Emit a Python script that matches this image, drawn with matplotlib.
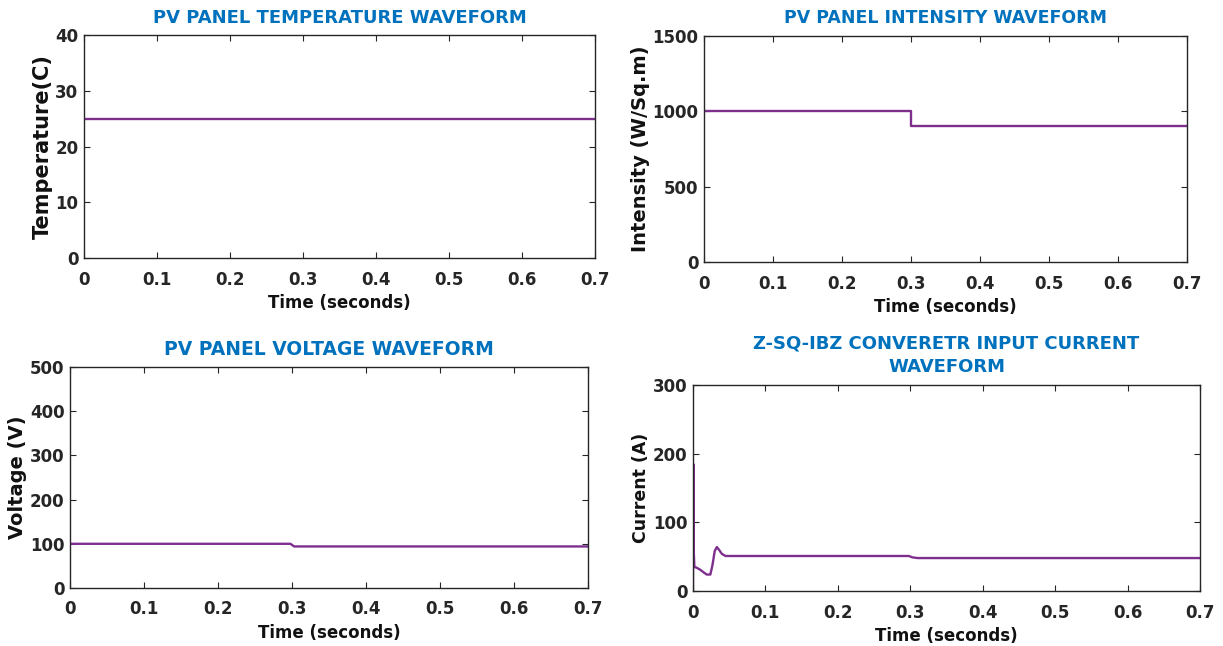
import numpy as np
import matplotlib.pyplot as plt

t_temp = [0, 0.7]
temp = [25, 25]

t_irr = [0, 0.3, 0.3, 0.7]
irr = [1000, 1000, 900, 900]

t_volt = [0, 0.298, 0.303, 0.7]
volt = [100, 100, 94, 94]

t_cur = [0, 0.0005, 0.001, 0.002, 0.005, 0.01, 0.015, 0.019, 0.024,
         0.027, 0.03, 0.033, 0.036, 0.04, 0.045, 0.05, 0.298, 0.303, 0.31, 0.7]
cur = [0, 185, 60, 35, 34, 31, 27, 24, 24,
       38, 58, 64, 60, 54, 51, 51, 51, 49, 48, 48]

line_c = '#7E2F8E'
title_c = '#0072BD'
ax_c = '#262626'

plt.rcParams['font.family'] = 'DejaVu Sans'
plt.rcParams['font.weight'] = 'bold'

fig = plt.figure(figsize=(12.23, 6.46), dpi=100)

def setup(ax, title, ylabel, ylim, yticks, tsize, ysize):
    ax.set_xlim(0, 0.7)
    ax.set_ylim(*ylim)
    ax.set_xticks(np.arange(0, 0.71, 0.1))
    ax.set_xticklabels(['0', '0.1', '0.2', '0.3', '0.4', '0.5', '0.6', '0.7'])
    ax.set_yticks(yticks)
    ax.tick_params(direction='in', top=True, right=True, colors=ax_c,
                   labelsize=12, length=4, pad=4)
    ax.tick_params(axis='x', pad=9)
    for lab in ax.get_xticklabels() + ax.get_yticklabels():
        lab.set_fontweight('bold')
    for s in ax.spines.values():
        s.set_color(ax_c)
        s.set_linewidth(1.0)
    ax.set_title(title, color=title_c, fontsize=tsize, fontweight='bold',
                 pad=9, linespacing=1.4)
    ax.set_xlabel('Time (seconds)', fontsize=12, fontweight='bold', color='#111111',
                  labelpad=4)
    ax.set_ylabel(ylabel, fontsize=ysize, fontweight='bold', color='#111111',
                  labelpad=2)

ax1 = fig.add_axes([0.0687, 0.6006, 0.418, 0.345])
ax1.plot(t_temp, temp, color=line_c, lw=1.7)
setup(ax1, 'PV PANEL TEMPERATURE WAVEFORM', 'Temperature(C)', (0, 40),
      [0, 10, 20, 30, 40], 13, 15)

ax2 = fig.add_axes([0.5756, 0.594, 0.395, 0.351])
ax2.plot(t_irr, irr, color=line_c, lw=1.7)
setup(ax2, 'PV PANEL INTENSITY WAVEFORM', 'Intensity (W/Sq.m)', (0, 1500),
      [0, 500, 1000, 1500], 12.5, 14)

ax3 = fig.add_axes([0.0572, 0.0898, 0.4235, 0.342])
ax3.plot(t_volt, volt, color=line_c, lw=1.7)
setup(ax3, 'PV PANEL VOLTAGE WAVEFORM', 'Voltage (V)', (0, 500),
      [0, 100, 200, 300, 400, 500], 13.5, 14)

ax4 = fig.add_axes([0.5666, 0.0851, 0.4146, 0.319])
ax4.plot(t_cur, cur, color=line_c, lw=1.7)
setup(ax4, 'Z-SQ-IBZ CONVERETR INPUT CURRENT\nWAVEFORM', 'Current (A)', (0, 300),
      [0, 100, 200, 300], 13, 12.5)

fig.savefig('out.png', dpi=100)
